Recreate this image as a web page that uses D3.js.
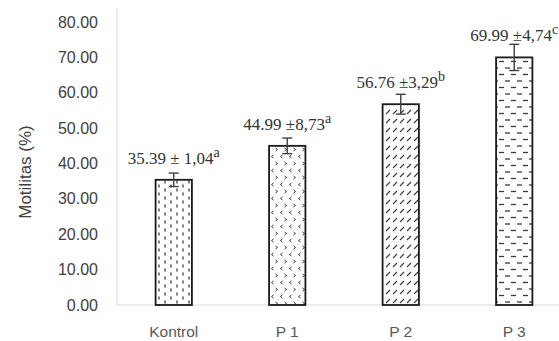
<!DOCTYPE html>
<html><head><meta charset="utf-8">
<script src="https://cdn.jsdelivr.net/npm/d3@7"></script>
<style>body{margin:0;background:#fff}svg{display:block}</style>
</head><body>
<svg id="c" width="559" height="341"></svg>
<script>
const categories = ["Kontrol", "P 1", "P 2", "P 3"];
const values = [35.39, 44.99, 56.76, 69.99];
const errBars = [1.9, 2.2, 2.8, 3.7];
const labelMain = ["35.39 \u00b1 1,04", "44.99 \u00b18,73", "56.76 \u00b13,29", "69.99 \u00b14,74"];
const labelSup = ["a", "a", "b", "c"];
const yTicks = [0, 10, 20, 30, 40, 50, 60, 70, 80];

const svg = d3.select("#c");
const x = d3.scaleBand().domain(categories).range([117, 571]).paddingInner(0.68).paddingOuter(0.34);
const y = d3.scaleLinear().domain([0, 80]).range([305, 22]);

const defs = svg.append("defs");
const pc = "#3a3a3a";
// Kontrol: dashed vertical
let p = defs.append("pattern").attr("id", "p0").attr("patternUnits", "userSpaceOnUse").attr("width", 12).attr("height", 8);
p.append("line").attr("x1", 3).attr("x2", 3).attr("y1", 0.5).attr("y2", 3.5).attr("stroke", pc).attr("stroke-width", 1.3);
p.append("line").attr("x1", 9).attr("x2", 9).attr("y1", 4.5).attr("y2", 7.5).attr("stroke", pc).attr("stroke-width", 1.3);
// P1: chevrons
p = defs.append("pattern").attr("id", "p1").attr("patternUnits", "userSpaceOnUse").attr("width", 9).attr("height", 14);
p.append("path").attr("d", "M3.5,1 L1.5,2.5 L3.5,4").attr("fill", "none").attr("stroke", pc).attr("stroke-width", 1);
p.append("path").attr("d", "M5.5,8 L7.5,9.5 L5.5,11").attr("fill", "none").attr("stroke", pc).attr("stroke-width", 1);
// P2: dashed upward diagonal
p = defs.append("pattern").attr("id", "p2").attr("patternUnits", "userSpaceOnUse").attr("width", 7).attr("height", 9);
p.append("line").attr("x1", 1).attr("y1", 6).attr("x2", 5).attr("y2", 2).attr("stroke", pc).attr("stroke-width", 1.1);
// P3: dashed horizontal
p = defs.append("pattern").attr("id", "p3").attr("patternUnits", "userSpaceOnUse").attr("width", 12).attr("height", 13);
p.append("line").attr("x1", 1).attr("x2", 6).attr("y1", 3).attr("y2", 3).attr("stroke", pc).attr("stroke-width", 1.3);
p.append("line").attr("x1", 7).attr("x2", 12).attr("y1", 9.5).attr("y2", 9.5).attr("stroke", pc).attr("stroke-width", 1.3);

// axis lines
svg.append("line").attr("x1", 117).attr("x2", 117).attr("y1", 8).attr("y2", y(0)).attr("stroke", "#d9d9d9").attr("stroke-width", 1);
svg.append("line").attr("x1", 117).attr("x2", 559).attr("y1", y(0)).attr("y2", y(0)).attr("stroke", "#d9d9d9").attr("stroke-width", 1.2);

// y tick labels
svg.append("g").selectAll("text").data(yTicks).join("text")
  .attr("x", 98).attr("y", d => y(d)).attr("dy", "0.35em").attr("text-anchor", "end")
  .attr("font-family", "Liberation Sans, Arial, sans-serif").attr("font-size", 16).attr("fill", "#404040")
  .text(d => d3.format(".2f")(d));

// y title
svg.append("text").attr("transform", "translate(31,172) rotate(-90)").attr("text-anchor", "middle")
  .attr("font-family", "Liberation Sans, Arial, sans-serif").attr("font-size", 17).attr("fill", "#404040")
  .text("Motilitas (%)");

// x labels
svg.append("g").selectAll("text").data(categories).join("text")
  .attr("x", d => x(d) + x.bandwidth() / 2).attr("y", 332).attr("dy", "0.35em").attr("text-anchor", "middle")
  .attr("font-family", "Liberation Sans, Arial, sans-serif").attr("font-size", 15.5).attr("fill", "#595959")
  .text(d => d);

// bars
svg.append("g").selectAll("rect").data(values).join("rect")
  .attr("x", (d, i) => x(categories[i])).attr("y", d => y(d))
  .attr("width", x.bandwidth()).attr("height", d => y(0) - y(d))
  .attr("fill", (d, i) => `url(#p${i})`).attr("stroke", "#1a1a1a").attr("stroke-width", 1.8);

// error bars
const eg = svg.append("g").attr("stroke", "#404040").attr("stroke-width", 1.4);
values.forEach((v, i) => {
  const cx = x(categories[i]) + x.bandwidth() / 2;
  const e = errBars[i];
  eg.append("line").attr("x1", cx).attr("x2", cx).attr("y1", y(v + e)).attr("y2", y(v - e));
  eg.append("line").attr("x1", cx - 5).attr("x2", cx + 5).attr("y1", y(v + e)).attr("y2", y(v + e));
  eg.append("line").attr("x1", cx - 5).attr("x2", cx + 5).attr("y1", y(v - e)).attr("y2", y(v - e));
});

// value labels
values.forEach((v, i) => {
  const cx = x(categories[i]) + x.bandwidth() / 2;
  const t = svg.append("text").attr("x", cx).attr("y", y(v) - 16).attr("text-anchor", "middle")
    .attr("font-family", "Liberation Serif, Times New Roman, serif").attr("font-size", 17).attr("fill", "#333");
  t.append("tspan").text(labelMain[i]);
  t.append("tspan").attr("dy", -7).attr("font-size", 14).text(labelSup[i]);
});
</script>
</body></html>
